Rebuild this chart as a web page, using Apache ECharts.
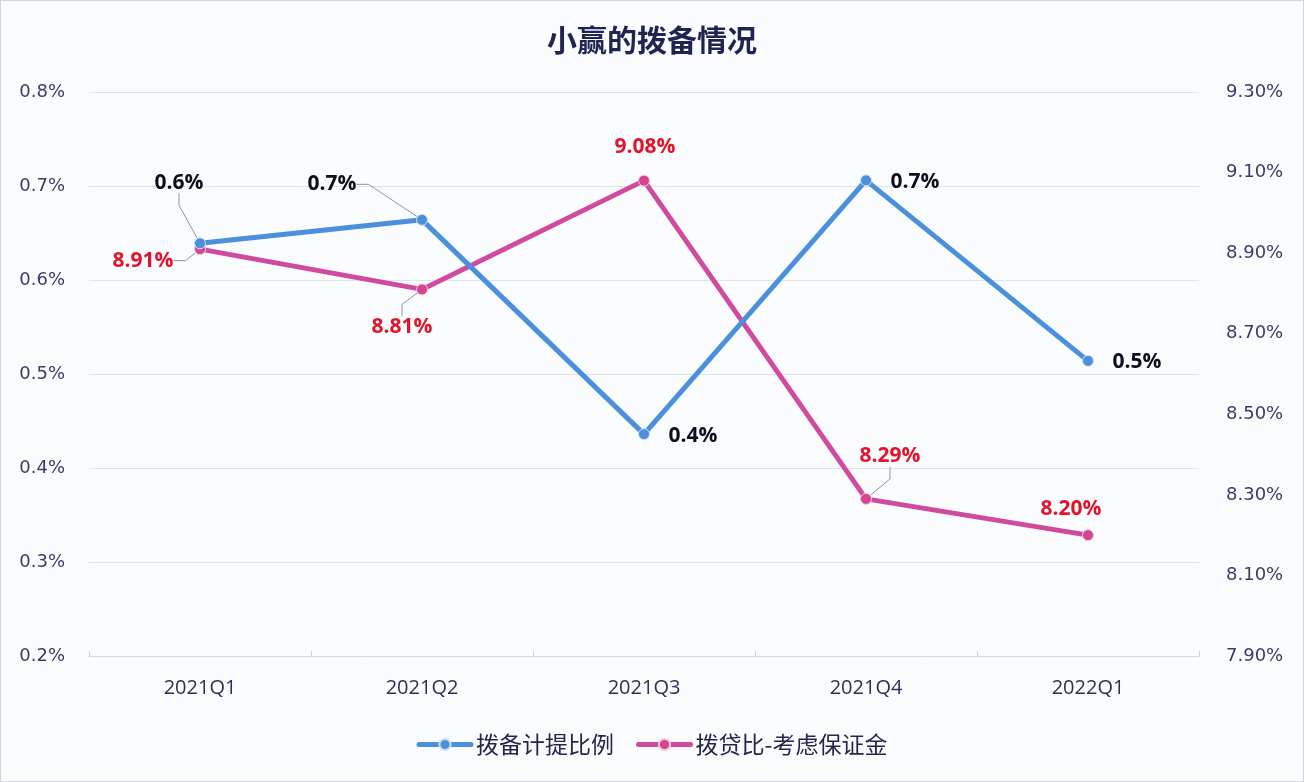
<!DOCTYPE html>
<html>
<head>
<meta charset="utf-8">
<script src="https://cdn.jsdelivr.net/npm/echarts@6/dist/echarts.min.js"></script>
<style>
  html, body { margin: 0; padding: 0; background: #fff; }
  #chart {
    width: 1302px; height: 780px;
    border: 1px solid #cfd6e4;
    background: #fbfcfe;
  }
</style>
</head>
<body>
<div id="chart"></div>
<script>
// 数据
const quarters = ['2021Q1', '2021Q2', '2021Q3', '2021Q4', '2022Q1']
const provisionRate = [0.639, 0.664, 0.436, 0.706, 0.514]   // 拨备计提比例 (%)
const provisionLoan = [8.91, 8.81, 9.08, 8.29, 8.20]        // 拨贷比-考虑保证金 (%)
const leftTicks = { min: 0.2, max: 0.8, interval: 0.1 }
const rightTicks = { min: 7.9, max: 9.3, interval: 0.2 }

// 标签偏移 (相对数据点)
const blueLabelShift = [[-21, -61], [-90, -36], [49, 1], [49, 1], [49, 1]]
const pinkLabelShift = [[-57, 11], [-20, 37], [1, -34], [24, -43], [-17, -27]]
const blueLine = [true, true, false, false, false]
const pinkLine = [true, true, false, true, false]

const chart = echarts.init(document.getElementById('chart'))

const labelFont = { fontFamily: 'Open Sans', fontWeight: 'bold', fontSize: 21 }

const mkData = (vals, lines) => vals.map((v, i) => ({
  value: v,
  labelLine: { show: lines[i], lineStyle: { color: '#8a94a6', width: 1 }, length2: 12 }
}))

chart.setOption({
  title: {
    text: '小赢的拨备情况',
    left: 'center', top: 19,
    textStyle: { fontFamily: 'Noto Sans CJK SC', fontSize: 30, fontWeight: 'bold', color: '#1f2550' }
  },
  grid: { left: 88, right: 104, top: 91, bottom: 125 },
  legend: {
    bottom: 20, left: 'center', itemGap: 22,
    itemWidth: 52, itemHeight: 14,
    lineStyle: { width: 5, cap: 'round' },
    textStyle: { fontFamily: 'Noto Sans CJK SC', fontSize: 23, color: '#23264a' },
    data: ['拨备计提比例', '拨贷比-考虑保证金']
  },
  xAxis: {
    type: 'category',
    data: quarters,
    axisLine: { lineStyle: { color: '#d3d9e3' } },
    axisTick: { show: true, inside: true, length: 5, lineStyle: { color: '#c9d0dc' } },
    axisLabel: { margin: 22, fontFamily: 'Open Sans', fontSize: 20, color: '#2e2f55' }
  },
  yAxis: [{
    type: 'value', ...leftTicks,
    axisLine: { show: false }, axisTick: { show: false },
    splitLine: { lineStyle: { color: '#dfe4ec' } },
    axisLabel: { margin: 24, fontFamily: 'DejaVu Sans', fontSize: 18, color: '#3a3c66',
      formatter: v => v.toFixed(1) + '%' }
  }, {
    type: 'value', ...rightTicks,
    axisLine: { show: false }, axisTick: { show: false },
    splitLine: { show: false },
    axisLabel: { margin: 27, fontFamily: 'DejaVu Sans', fontSize: 18, color: '#3a3c66',
      formatter: v => v.toFixed(2) + '%' }
  }],
  series: [{
    name: '拨备计提比例',
    type: 'line',
    yAxisIndex: 0,
    data: mkData(provisionRate, blueLine),
    symbol: 'circle', symbolSize: 11,
    lineStyle: { width: 5, color: '#4a90dc' },
    itemStyle: { color: '#4a90dc', borderColor: '#cfe0f5', borderWidth: 1 },
    label: { show: true, position: 'top', color: '#0d0d1c', ...labelFont,
      formatter: p => p.value.toFixed(1) + '%' },
    labelLayout: p => ({ dx: blueLabelShift[p.dataIndex][0], dy: blueLabelShift[p.dataIndex][1] + 22 }),
    z: 3
  }, {
    name: '拨贷比-考虑保证金',
    type: 'line',
    yAxisIndex: 1,
    data: mkData(provisionLoan, pinkLine),
    symbol: 'circle', symbolSize: 11,
    lineStyle: { width: 5, color: '#d04a9f' },
    itemStyle: { color: '#d6458f', borderColor: '#f2c8dc', borderWidth: 1 },
    label: { show: true, position: 'top', color: '#e3132b', ...labelFont,
      formatter: p => p.value.toFixed(2) + '%' },
    labelLayout: p => ({ dx: pinkLabelShift[p.dataIndex][0], dy: pinkLabelShift[p.dataIndex][1] + 22 }),
    z: 2
  }]
})
</script>
</body>
</html>
